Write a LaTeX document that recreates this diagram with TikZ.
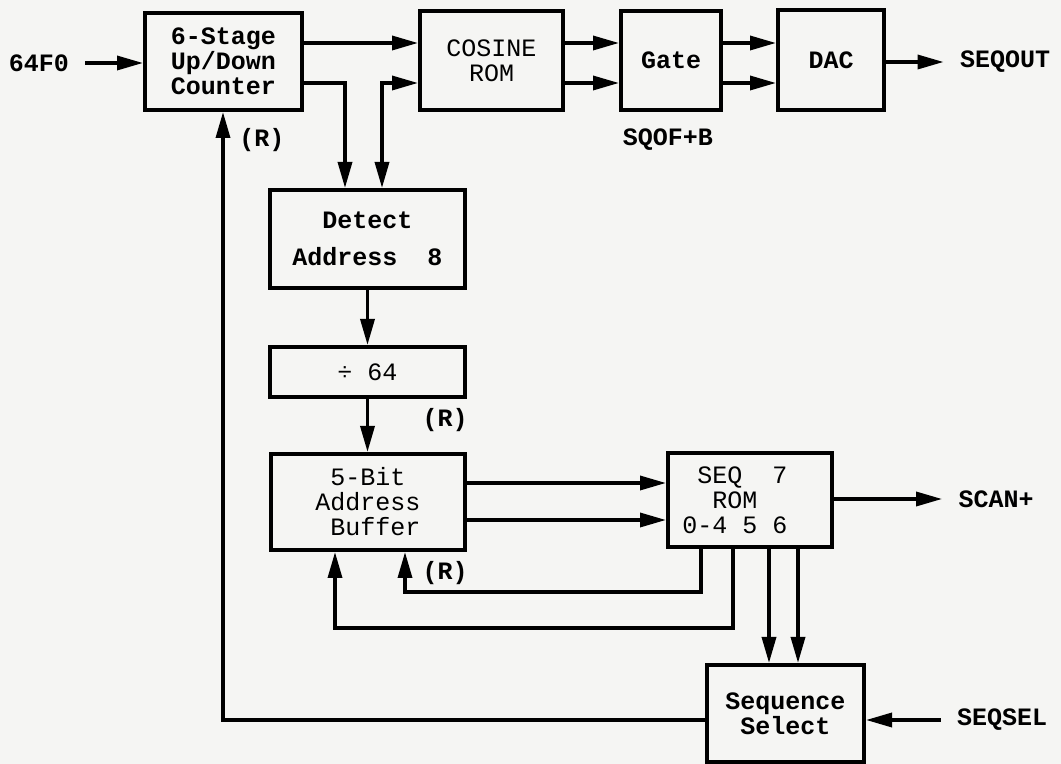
\documentclass[tikz,border=0pt]{standalone}
\usepackage{fontspec}
\setmainfont{Liberation Mono}
\usetikzlibrary{arrows.meta}
\newcommand\txt{\fontsize{12.5}{12.5}\selectfont}
\newcommand\chsp{\phantom{0}}
\definecolor{paper}{RGB}{245,245,243}

\tikzset{
  blk/.style={draw, line width=2pt, inner sep=0pt, align=center},
  lbl/.style={inner xsep=8pt, inner ysep=0pt, font=\txt\bfseries},
  arr/.style={line width=1.7pt, -{Triangle[length=13pt,width=7pt]}},
  arrtwo/.style={line width=1.7pt, {Triangle[length=13pt,width=7pt]}-{Triangle[length=13pt,width=7pt]}},
}

\begin{document}
\begin{tikzpicture}[x=0.5pt, y=-0.5pt, font=\txt]

\fill[paper] (0,0) rectangle (1061,764);
\useasboundingbox (0,0) rectangle (1061,764);

% blocks
\node[blk, minimum width=78.5pt, minimum height=48.5pt, font=\txt\bfseries] (counter) at (223.5,61.5) {6-Stage\\Up/Down\\Counter};
\node[blk, minimum width=71.5pt, minimum height=49.5pt] (cosine) at (491.5,60.5) {COSINE\\ROM};
\node[blk, minimum width=50pt, minimum height=49.5pt, font=\txt\bfseries] (gate) at (671,60.5) {Gate};
\node[blk, minimum width=53pt, minimum height=50pt, font=\txt\bfseries] (dac) at (831,60) {DAC};
\node[blk, minimum width=97.5pt, minimum height=49pt, font=\txt\bfseries] (detect) at (367.5,239) {Detect\\[6pt]Address\chsp\chsp 8};
\node[blk, minimum width=97.5pt, minimum height=25pt] (div64) at (367.5,372) {÷ 64};
\node[blk, minimum width=97pt, minimum height=48pt, align=left] (buffer) at (368,502) {\chsp 5-Bit\\Address\\\chsp Buffer};
\node[blk, minimum width=82pt, minimum height=47pt, align=left] (seqrom) at (750,500) {\chsp SEQ\chsp\chsp 7\\\chsp\chsp ROM\\0-4\chsp 5\chsp 6\chsp\chsp};
\node[blk, minimum width=78.5pt, minimum height=48.5pt, font=\txt\bfseries] (seqsel) at (785.5,713.5) {Sequence\\Select};

% labels
\node[lbl] (in64) at (39,63) {64F0};
\node[lbl] (seqout) at (1005,62) {SEQOUT};
\node[lbl] (scan) at (996,499) {SCAN+};
\node[lbl] (seqselin) at (1002,720) {SEQSEL};
\node[lbl] (sqof) at (668,140) {SQOF+B};
\node[lbl] (rcount) at (262,140) {(R)};
\node[lbl] (rdiv) at (445,420) {(R)};
\node[lbl] (rbuf) at (445,573) {(R)};

% top row
\draw[arr] (in64.east) -- (in64.east -| counter.west);
\draw[arr] (counter.east |- 0,43) -- (cosine.west |- 0,43);
\draw[arr] (counter.east |- 0,83) -| (detect.north -| 345,0);
\draw[arrtwo] (detect.north -| 382,0) |- (cosine.west |- 0,83);
\foreach \y in {43,83} {
  \draw[arr] (cosine.east |- 0,\y) -- (gate.west |- 0,\y);
  \draw[arr] (gate.east |- 0,\y) -- (dac.west |- 0,\y);
}
\draw[arr] (dac.east |- seqout) -- (seqout.west);

% middle column
\draw[arr] (detect) -- (div64);
\draw[arr] (div64.south) -- (div64.south |- buffer.north);
\foreach \y in {483,520}
  \draw[arr] (buffer.east |- 0,\y) -- (seqrom.west |- 0,\y);
\draw[arr] (seqrom.east |- scan) -- (scan.west);

% feedback
\draw[arr] (seqrom.south -| 701,0) |- (405,592) -- (buffer.south -| 405,0);
\draw[arr] (seqrom.south -| 733,0) |- (335,628) -- (buffer.south -| 335,0);
\foreach \x in {769,798}
  \draw[arr] (seqrom.south -| \x,0) -- (seqsel.north -| \x,0);
\draw[arr] (seqselin.west) -- (seqselin.west -| seqsel.east);
\draw[arr] (seqsel.west |- 0,720) -| (counter.south -| 223,0);

\end{tikzpicture}
\end{document}
